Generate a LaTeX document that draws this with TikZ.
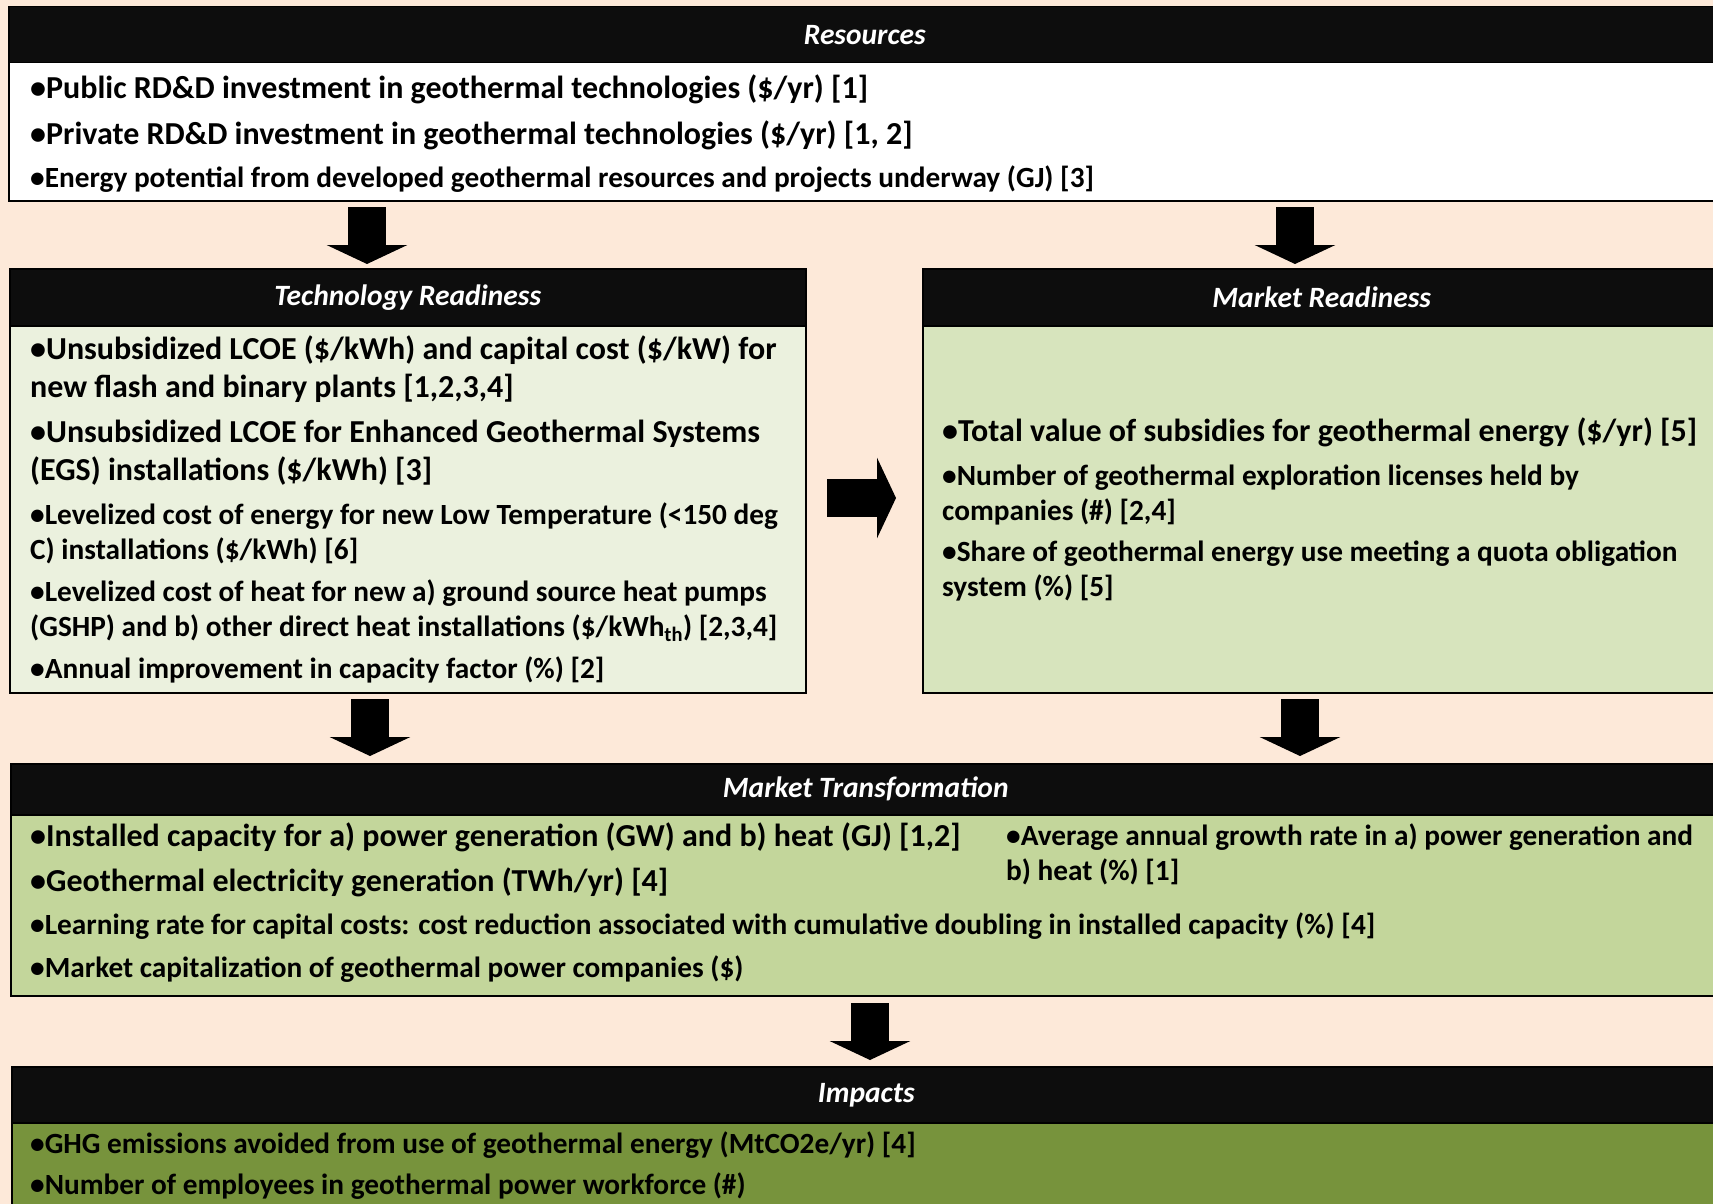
\documentclass[tikz,border=0pt]{standalone}
\usepackage{fontspec}
\setmainfont{Carlito}
\usetikzlibrary{positioning,arrows.meta}

\definecolor{peach}{HTML}{FDE9D9}
\definecolor{hdrblack}{HTML}{0D0D0D}
\definecolor{techgreen}{HTML}{EBF1DE}
\definecolor{mrgreen}{HTML}{D7E4BD}
\definecolor{mtgreen}{HTML}{C3D69B}
\definecolor{impgreen}{HTML}{77933C}

\newcommand{\bigtxt}{\fontsize{32}{38}\selectfont\bfseries}
\newcommand{\smtxt}{\fontsize{29.3}{35}\selectfont\bfseries}

\tikzset{
  hdr/.style={rectangle, draw=black, line width=1.5, fill=hdrblack, anchor=north west, inner sep=0},
  body/.style={rectangle, draw=black, line width=1.5, anchor=north west, inner sep=0},
  title/.style={text=white, font=\fontsize{29.5}{34}\selectfont\bfseries\itshape},
  item/.style={anchor=west, inner sep=0, align=left, font=\bigtxt},
  itemsm/.style={anchor=west, inner sep=0, align=left, font=\smtxt},
  blk/.style={line width=38, -{Triangle[length=19pt 0,width=80pt 0]}}
}

\begin{document}
\begin{tikzpicture}[x=1pt,y=-1pt]
\fill[peach] (0,0) rectangle (1713,1204);
\useasboundingbox (0,0) rectangle (1713,1204);

% Resources
\node[body, fill=white, minimum width=1712, minimum height=138] (resbody) at (8,62) {};
\node[hdr, minimum width=1712, minimum height=56] (reshdr) at (8,6) {};
\node[title] (restitle) at (reshdr.center) {Resources};
\node[item] (res1) at (30,89.6) {•Public RD\&D investment in geothermal technologies (\$/yr) [1]};
\node[item] (res2) at (30,135.5) {•Private RD\&D investment in geothermal technologies (\$/yr) [1, 2]};
\node[itemsm] (res3) at (30,179.2) {•Energy potential from developed geothermal resources and projects underway (GJ) [3]};

% Technology Readiness
\node[body, fill=techgreen, minimum width=796, minimum height=367] (techbody) at (9,325) {};
\node[hdr, minimum width=796, minimum height=57] (techhdr) at (9,268) {};
\node[title] (techtitle) at (techhdr.center) {Technology Readiness};
\node[item] (tech1) at (30,368.7) {•Unsubsidized LCOE (\$/kWh) and capital cost (\$/kW) for\\new flash and binary plants [1,2,3,4]};
\node[item] (tech2) at (30,452.9) {•Unsubsidized LCOE for Enhanced Geothermal Systems\\(EGS) installations (\$/kWh) [3]};
\node[itemsm] (tech3) at (30,533.2) {•Levelized cost of energy for new Low Temperature (<150 deg\\C) installations (\$/kWh) [6]};
\node[itemsm] (tech4) at (30,610.7) {•Levelized cost of heat for new a) ground source heat pumps\\(GSHP) and b) other direct heat installations (\$/kWh\textsubscript{th}) [2,3,4]};
\node[itemsm] (tech5) at (30,669.7) {•Annual improvement in capacity factor (\%) [2]};

% Market Readiness
\node[body, fill=mrgreen, minimum width=798, minimum height=367] (mrbody) at (922,325) {};
\node[hdr, minimum width=798, minimum height=57] (mrhdr) at (922,268) {};
\node[title] (mrtitle) at (mrhdr.center) {Market Readiness};
\node[item] (mr1) at (942,432.6) {•Total value of subsidies for geothermal energy (\$/yr) [5]};
\node[itemsm] (mr2) at (942,494.9) {•Number of geothermal exploration licenses held by\\companies (\#) [2,4]};
\node[itemsm] (mr3) at (942,571.4) {•Share of geothermal energy use meeting a quota obligation\\system (\%) [5]};

% Market Transformation
\node[body, fill=mtgreen, minimum width=1710, minimum height=181] (mtbody) at (10,814) {};
\node[hdr, minimum width=1710, minimum height=51] (mthdr) at (10,763) {};
\node[title] (mttitle) at (mthdr.center) {Market Transformation};
\node[item] (mt1) at (30,836.9) {•Installed capacity for a) power generation (GW) and b) heat (GJ) [1,2]};
\node[item] (mt2) at (30,882.7) {•Geothermal electricity generation (TWh/yr) [4]};
\node[itemsm] (mt3) at (1006,854.4) {•Average annual growth rate in a) power generation and\\b) heat (\%) [1]};
\node[itemsm] (mt4) at (30,926.4) {•Learning rate for capital costs: cost reduction associated with cumulative doubling in installed capacity (\%) [4]};
\node[itemsm] (mt5) at (30,969) {•Market capitalization of geothermal power companies (\$)};

% Impacts
\node[body, fill=impgreen, minimum width=1709, minimum height=90] (impbody) at (11,1122) {};
\node[hdr, minimum width=1709, minimum height=56] (imphdr) at (11,1066) {};
\node[title] (imptitle) at (imphdr.center) {Impacts};
\node[itemsm] (imp1) at (30,1144.9) {•GHG emissions avoided from use of geothermal energy (MtCO2e/yr) [4]};
\node[itemsm] (imp2) at (30,1186.5) {•Number of employees in geothermal power workforce (\#)};

% block arrows
\coordinate (a1s) at (367,207);  \coordinate (a1e) at (367,264);
\coordinate (a2s) at (1295,207); \coordinate (a2e) at (1295,264);
\coordinate (a3s) at (370,699);  \coordinate (a3e) at (370,756);
\coordinate (a4s) at (1300,699); \coordinate (a4e) at (1300,756);
\coordinate (a5s) at (870,1003); \coordinate (a5e) at (870,1060);
\coordinate (a6s) at (827,498);  \coordinate (a6e) at (896,498);
\draw[blk] (a1s) -- (a1e);
\draw[blk] (a2s) -- (a2e);
\draw[blk] (a3s) -- (a3e);
\draw[blk] (a4s) -- (a4e);
\draw[blk] (a5s) -- (a5e);
\draw[blk] (a6s) -- (a6e);
\end{tikzpicture}
\end{document}
